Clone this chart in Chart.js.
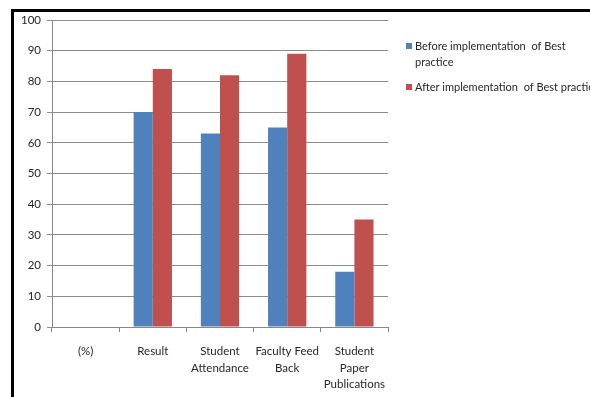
<!DOCTYPE html>
<html>
<head>
<meta charset="utf-8">
<script src="https://cdn.jsdelivr.net/npm/chart.js@4"></script>
<style>
  html, body { margin: 0; padding: 0; background: #fff; }
  #wrap { position: relative; width: 590px; height: 397px; }
  #frame { position: absolute; left: 11px; top: 9px; right: 0; bottom: 0;
           border-top: 3px solid #000; border-left: 3px solid #000; pointer-events: none; }
</style>
</head>
<body>
<div id="wrap">
  <canvas id="bar-chart" width="590" height="397"></canvas>
  <div id="frame"></div>
</div>
<script>
// categories and values
const categories = ["(%)", "Result", ["Student", "Attendance"], ["Faculty Feed", "Back"], ["Student", "Paper", "Publications"]];
const beforeValues = [0, 70, 63, 65, 18];
const afterValues = [0, 84, 82, 89, 35];
const yTicks = [0, 10, 20, 30, 40, 50, 60, 70, 80, 90, 100];
const seriesNames = ["Before implementation of Best practice", "After implementation  of Best practice"];
// legend wraps the first entry like the original
const legendLines = [["Before implementation  of Best", "practice"], ["After implementation  of Best practice"]];

const fontName = "Lato, 'Open Sans', sans-serif";
const textColor = "#262626";

// custom legend, drawn beside the plot
const sideLegend = {
    id: "sideLegend",
    afterDraw(chart) {
        const ctx = chart.ctx;
        ctx.save();
        ctx.font = "11px " + fontName;
        ctx.textBaseline = "middle";
        let y = 46;
        chart.data.datasets.forEach((ds, i) => {
            ctx.fillStyle = ds.backgroundColor;
            ctx.fillRect(406, y - 3, 6, 6);
            ctx.fillStyle = textColor;
            legendLines[i].forEach((line, j) => {
                ctx.fillText(line, 415, y + j * 16);
            });
            y += 41;
        });
        ctx.restore();
    }
};

new Chart(document.getElementById("bar-chart"), {
    type: "bar",
    data: {
        labels: categories,
        datasets: [{
            label: seriesNames[0],
            data: beforeValues,
            backgroundColor: "#4F81BD",
            categoryPercentage: 0.57,
            barPercentage: 1.0
        }, {
            label: seriesNames[1],
            data: afterValues,
            backgroundColor: "#C0504D",
            categoryPercentage: 0.57,
            barPercentage: 1.0
        }]
    },
    options: {
        responsive: false,
        animation: false,
        layout: {
            padding: { left: 0, right: 202, top: 20, bottom: 0 }
        },
        plugins: {
            legend: { display: false },
            tooltip: { enabled: false }
        },
        scales: {
            x: {
                offset: true,
                grid: {
                    offset: true,
                    drawOnChartArea: false,
                    drawTicks: true,
                    tickLength: 5,
                    color: "#888"
                },
                border: { color: "#888" },
                ticks: {
                    color: textColor,
                    font: { family: fontName, size: 11.5, lineHeight: 1.45 },
                    padding: 11,
                    maxRotation: 0,
                    autoSkip: false
                },
                afterFit(scale) { scale.height = 70; }
            },
            y: {
                min: 0,
                max: 100,
                afterBuildTicks(scale) {
                    scale.ticks = yTicks.map(v => ({ value: v }));
                },
                grid: {
                    color: "#8c8c8c",
                    tickLength: 5
                },
                border: { color: "#888" },
                ticks: {
                    color: textColor,
                    font: { family: fontName, size: 11.5 },
                    padding: 6
                },
                afterFit(scale) { scale.width = 52; }
            }
        }
    },
    plugins: [sideLegend]
});
</script>
</body>
</html>
